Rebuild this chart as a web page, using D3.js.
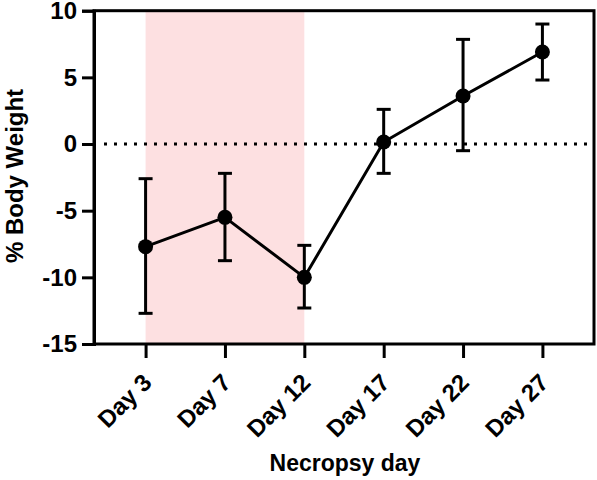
<!DOCTYPE html>
<html>
<head>
<meta charset="utf-8">
<script src="https://cdn.jsdelivr.net/npm/d3@7/dist/d3.min.js"></script>
<style>
  html, body { margin: 0; padding: 0; background: #fff; }
  svg { display: block; }
  text { font-family: "Liberation Sans", Arial, sans-serif; font-weight: bold; fill: #000; }
</style>
</head>
<body>
<svg id="chart" width="597" height="480"></svg>
<script>
const categories = ["Day 3", "Day 7", "Day 12", "Day 17", "Day 22", "Day 27"];
const means = [-7.7, -5.5, -10.0, 0.15, 3.6, 6.9];
const upper = [-2.6, -2.2, -7.6, 2.6, 7.85, 9.0];
const lower = [-12.7, -8.75, -12.3, -2.2, -0.5, 4.8];
const yTicks = [-15, -10, -5, 0, 5, 10];
const shadedFrom = "Day 3";
const shadedTo = "Day 12";

(function () {
const svg = d3.select("#chart");
const pl = 94, pr = 594, pt = 10.7, pb = 344;
const FONT = "'Liberation Sans', Arial, sans-serif";

const x = d3.scalePoint().domain(categories).range([pl, pr]).padding(0.65);
const y = d3.scaleLinear().domain([-15, 10]).range([pb, pt]);

// shaded region
svg.append("rect")
  .attr("x", x(shadedFrom)).attr("y", y(10))
  .attr("width", x(shadedTo) - x(shadedFrom))
  .attr("height", y(-15) - y(10))
  .attr("fill", "#fde0e1");

// zero dotted line
svg.append("line")
  .attr("x1", pl + 10).attr("x2", pr)
  .attr("y1", y(0)).attr("y2", y(0))
  .attr("stroke", "#000").attr("stroke-width", 3)
  .attr("stroke-dasharray", "3,7");

// frame
svg.append("rect")
  .attr("x", pl).attr("y", pt)
  .attr("width", pr - pl).attr("height", pb - pt)
  .attr("fill", "none").attr("stroke", "#000").attr("stroke-width", 3);

// y axis
const yAxis = svg.append("g").attr("transform", `translate(${pl},0)`)
  .call(d3.axisLeft(y).tickValues(yTicks).tickSize(12).tickPadding(5).tickFormat(d => String(d)));
yAxis.select(".domain").attr("stroke-width", 3);
yAxis.selectAll(".tick line").attr("stroke-width", 3);
yAxis.selectAll(".tick text")
  .style("font-size", "24px").style("font-family", FONT).style("font-weight", "bold");

// x axis
const xAxis = svg.append("g").attr("transform", `translate(0,${pb})`)
  .call(d3.axisBottom(x).tickSize(14).tickPadding(4));
xAxis.select(".domain").remove();
xAxis.selectAll(".tick line").attr("stroke-width", 3);
xAxis.selectAll(".tick text")
  .style("font-size", "24px").style("font-family", FONT).style("font-weight", "bold")
  .attr("text-anchor", "end")
  .attr("dy", "0")
  .attr("y", 0)
  .attr("transform", "translate(7,40) rotate(-45)");

// error bars
const idx = d3.range(categories.length);
const capW = 7;
const eg = svg.append("g").attr("stroke", "#000").attr("stroke-width", 3);
idx.forEach(i => {
  const cx = x(categories[i]);
  eg.append("line").attr("x1", cx).attr("x2", cx).attr("y1", y(upper[i])).attr("y2", y(lower[i]));
  eg.append("line").attr("x1", cx - capW).attr("x2", cx + capW).attr("y1", y(upper[i])).attr("y2", y(upper[i]));
  eg.append("line").attr("x1", cx - capW).attr("x2", cx + capW).attr("y1", y(lower[i])).attr("y2", y(lower[i]));
});

// line
svg.append("path")
  .datum(idx)
  .attr("fill", "none").attr("stroke", "#000").attr("stroke-width", 3)
  .attr("d", d3.line().x(i => x(categories[i])).y(i => y(means[i])));

// points
svg.append("g").selectAll("circle").data(idx).join("circle")
  .attr("cx", i => x(categories[i])).attr("cy", i => y(means[i]))
  .attr("r", 7.5).attr("fill", "#000");

// axis titles
svg.append("text")
  .attr("x", 345).attr("y", 471)
  .attr("text-anchor", "middle")
  .style("font-size", "23px")
  .text("Necropsy day");

svg.append("text")
  .attr("transform", `translate(23,176) rotate(-90)`)
  .attr("text-anchor", "middle")
  .style("font-size", "24px")
  .text("% Body Weight");
})();
</script>
</body>
</html>
